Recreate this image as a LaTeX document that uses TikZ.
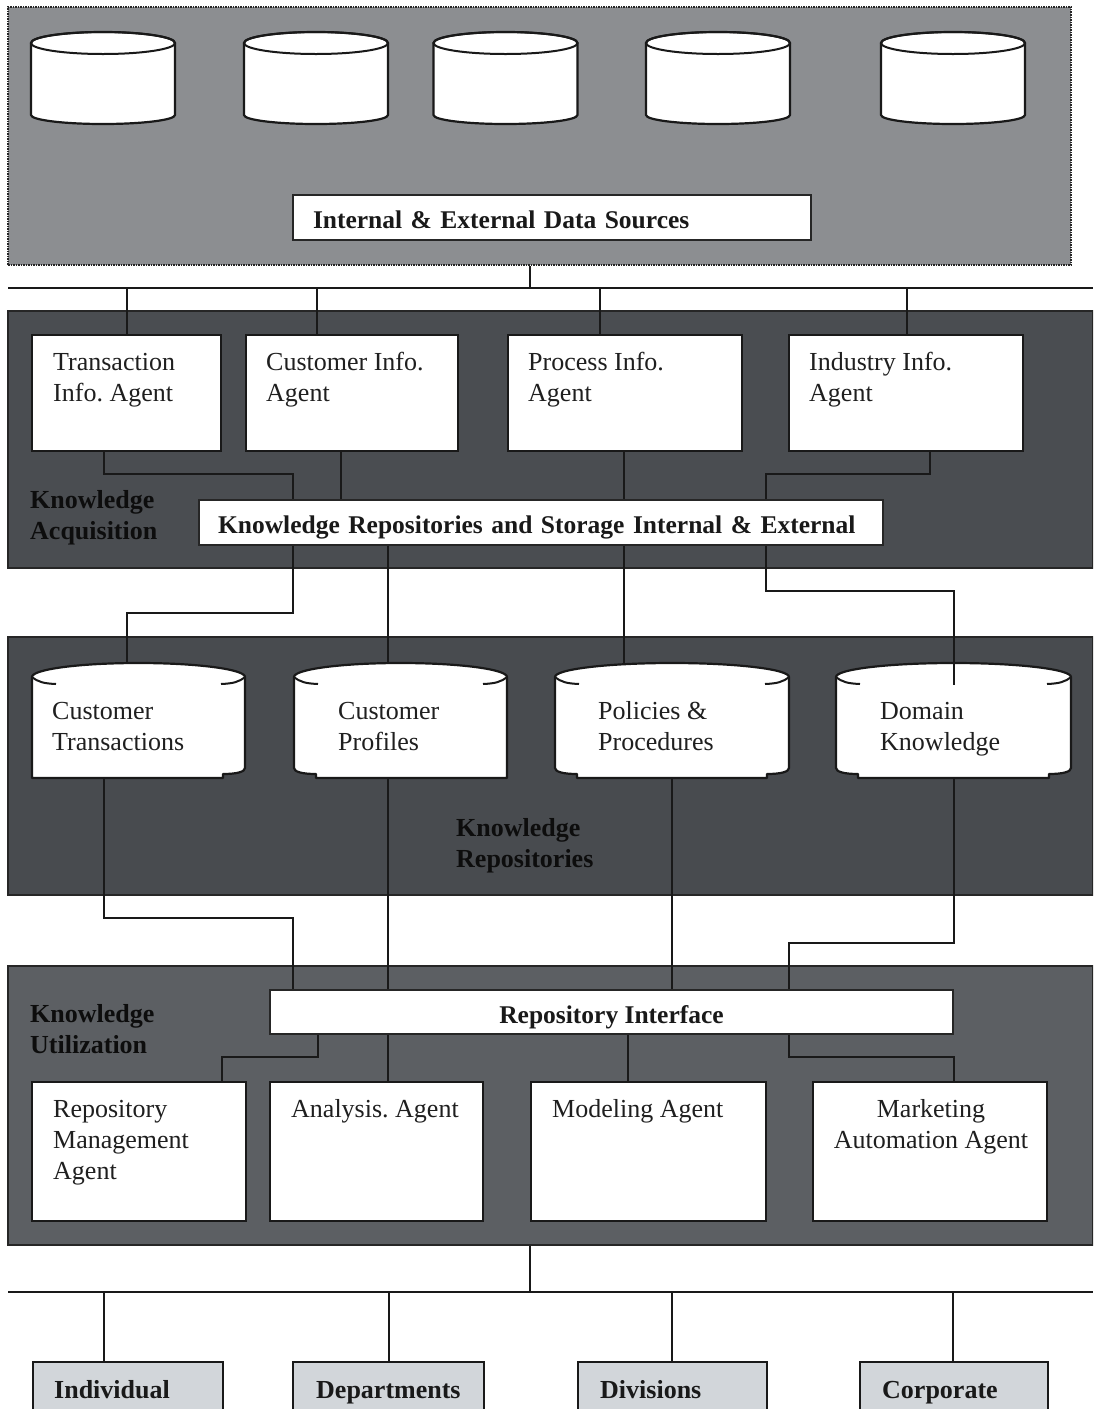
\documentclass[tikz,border=0pt]{standalone}
\usepackage{fontspec}
\setmainfont{Liberation Serif}
\usetikzlibrary{calc}
\frenchspacing
\newcommand\bodyfont{\fontsize{26}{31}\selectfont}
\newcommand\boldlabelfont{\fontsize{25.5}{31}\selectfont\bfseries}
\definecolor{srcgray}{HTML}{8C8E91}
\definecolor{acqgray}{HTML}{4A4D51}
\definecolor{repgray}{HTML}{484B4F}
\definecolor{utlgray}{HTML}{5C5F63}
\definecolor{usergray}{HTML}{D2D6DA}
\begin{document}
\begin{tikzpicture}[x=1pt,y=-1pt,
  panel/.style={draw=black!85, line width=1.5pt, inner sep=0pt},
  srcpanel/.style={panel, fill=srcgray, densely dotted},
  agentbox/.style={draw=black!90, fill=white, line width=2.6pt, inner sep=0pt, minimum height=116pt},
  utilbox/.style={agentbox, minimum height=139pt},
  labelbox/.style={draw=black!85, fill=white, line width=1.2pt, inner ysep=0pt, minimum height=45pt,
                   text height=22pt, text depth=0pt, font=\boldlabelfont, text=black!90},
  userbox/.style={draw=black!90, fill=usergray, line width=2.6pt, inner sep=0pt, minimum height=58pt},
  area/.style={inner sep=0pt, minimum height=115pt},
  txt/.style={font=\bodyfont, text=black!88, inner sep=0pt, anchor=north west, align=left},
  paneltxt/.style={txt, font=\bodyfont\bfseries, text=black!95},
  usertxt/.style={font=\bodyfont\bfseries, text=black!90, inner sep=0pt, anchor=base west},
  wire/.style={draw=black!90, line width=2pt},
  cyl/.style={draw=black!90, fill=white, line width=2.2pt, line join=round},
  cylhook/.style={draw=black!90, line width=2pt},
  dbcyl/.pic={
    \draw[cyl] (-72,0) -- (-72,72) arc[start angle=180,end angle=0,x radius=72,y radius=9]
       -- (72,0) arc[start angle=0,end angle=-180,x radius=72,y radius=11] -- cycle;
    \draw[cylhook] (0,0) ellipse[x radius=72,y radius=11];
  }]
\useasboundingbox (0,0) rectangle (1093,1409);
\clip (0,0) rectangle (1093,1409);

% ---------------- data sources ----------------
\node[srcpanel, minimum width=1063pt, minimum height=258pt] (src) at (539.5,136) {};
\pic (s1) at (103,43) {dbcyl};
\pic (s2) at (316,43) {dbcyl};
\pic (s3) at (505.5,43) {dbcyl};
\pic (s4) at (718,43) {dbcyl};
\pic (s5) at (953,43) {dbcyl};
\node[labelbox, minimum width=518pt, text width=478pt, inner xsep=20pt, align=left] (ds) at (552,217.5)
  {Internal \& External Data Sources};

% ---------------- knowledge acquisition ----------------
\node[panel, fill=acqgray, minimum width=1085pt, minimum height=257pt] (acq) at (550.5,439.5) {};
\node[agentbox, minimum width=189pt] (ta) at (126.5,393) {};
\node[agentbox, minimum width=212pt] (ci) at (352,393) {};
\node[agentbox, minimum width=234pt] (pi) at (625,393) {};
\node[agentbox, minimum width=234pt] (ii) at (906,393) {};
\node[txt] (tat) at (53,348.3) {\strut Transaction\\Info. Agent};
\node[txt] (cit) at (266,348.3) {\strut Customer Info.\\Agent};
\node[txt] (pit) at (528,348.3) {\strut Process Info.\\Agent};
\node[txt] (iit) at (809,348.3) {\strut Industry Info.\\Agent};
\node[paneltxt] (acqt) at (30,486.3) {\strut Knowledge\\Acquisition};
\node[labelbox, minimum width=684pt, text width=646pt, inner xsep=19pt, align=left] (kr) at (541,522.5)
  {Knowledge Repositories and Storage Internal \& External};

% ---------------- knowledge repositories ----------------
\node[panel, fill=repgray, minimum width=1085pt, minimum height=258pt] (rep) at (550.5,766) {};
\node[area, minimum width=213pt] (ct) at (138.5,720.5) {};
\node[area, minimum width=213pt] (cp) at (400.5,720.5) {};
\node[area, minimum width=234pt] (pp) at (672,720.5) {};
\node[area, minimum width=235pt] (dk) at (953.5,720.5) {};
% Customer Transactions
\draw[cyl] (32,677) arc[start angle=180,end angle=360,x radius=106.5,y radius=14]
  -- (245,768) .. controls (245,772) and (236,774) .. (223,774) -- (223,778) -- (32,778) -- cycle;
% Customer Profiles
\draw[cyl] (294,677) arc[start angle=180,end angle=360,x radius=106.5,y radius=14]
  -- (507,778) -- (316,778) -- (316,774) .. controls (303,774) and (294,772) .. (294,768) -- cycle;
% Policies & Procedures
\draw[cyl] (555,677) arc[start angle=180,end angle=360,x radius=117,y radius=14]
  -- (789,768) .. controls (789,772) and (780,774) .. (767,774) -- (767,778)
  -- (577,778) -- (577,774) .. controls (564,774) and (555,772) .. (555,768) -- cycle;
% Domain Knowledge
\draw[cyl] (836,677) arc[start angle=180,end angle=360,x radius=117.5,y radius=14]
  -- (1071,768) .. controls (1071,772) and (1062,774) .. (1049,774) -- (1049,778)
  -- (858,778) -- (858,774) .. controls (845,774) and (836,772) .. (836,768) -- cycle;
\foreach \a/\b in {32/245,294/507,555/789,836/1071}{
  \draw[cylhook] (\a,677) .. controls (\a+6,682) and (\a+12,683.5) .. (\a+24,684);
  \draw[cylhook] (\b,677) .. controls (\b-6,682) and (\b-12,683.5) .. (\b-24,684);
}
\node[txt] (ctt) at (52,697.3) {\strut Customer\\Transactions};
\node[txt] (cpt) at (338,697.3) {\strut Customer\\Profiles};
\node[txt] (ppt) at (598,697.3) {\strut Policies \&\\Procedures};
\node[txt] (dkt) at (880,697.3) {\strut Domain\\Knowledge};
\node[paneltxt] (rept) at (456,814.3) {\strut Knowledge\\Repositories};

% ---------------- knowledge utilization ----------------
\node[panel, fill=utlgray, minimum width=1085pt, minimum height=279pt] (utl) at (550.5,1105.5) {};
\node[paneltxt] (utlt) at (30,1000.3) {\strut Knowledge\\Utilization};
\node[labelbox, minimum width=683pt, minimum height=44pt] (ri) at (611.5,1012) {Repository Interface};
\node[utilbox, minimum width=214pt] (rma) at (139,1151.5) {};
\node[utilbox, minimum width=213pt] (an) at (376.5,1151.5) {};
\node[utilbox, minimum width=235pt] (mo) at (648.5,1151.5) {};
\node[utilbox, minimum width=234pt] (ma) at (930,1151.5) {};
\node[txt] (rmat) at (53,1095.3) {\strut Repository\\Management\\Agent};
\node[txt] (ant) at (291,1095.3) {\strut Analysis. Agent};
\node[txt] (mot) at (552,1095.3) {\strut Modeling Agent};
\node[txt, anchor=north, align=center] (mat) at (931,1095.3) {\strut Marketing\\Automation Agent};

% ---------------- users ----------------
\node[userbox, minimum width=190pt] (ind) at (128,1391) {};
\node[userbox, minimum width=191pt] (dep) at (388.5,1391) {};
\node[userbox, minimum width=189pt] (div) at (672.5,1391) {};
\node[userbox, minimum width=188pt] (cor) at (954,1391) {};
\node[usertxt] (indt) at (54,1398) {Individual};
\node[usertxt] (dept) at (316,1398) {Departments};
\node[usertxt] (divt) at (600,1398) {Divisions};
\node[usertxt] (cort) at (882,1398) {Corporate};

% ---------------- connectors ----------------
% sources bus
\draw[wire] (530,0 |- src.south) -- (530,288);
\draw[wire] (8,288) -- (1093,288);
\foreach \x/\n in {127/ta,317/ci,600/pi,907/ii}
  \draw[wire] (\x,288) -- (\x,0 |- \n.north);
% agents to repository storage
\draw[wire] (104,0 |- ta.south) |- (293,474) -- (293,0 |- kr.north);
\draw[wire] (341,0 |- ci.south) -- (341,0 |- kr.north);
\draw[wire] (624,0 |- pi.south) -- (624,0 |- kr.north);
\draw[wire] (930,0 |- ii.south) |- (766,474) -- (766,0 |- kr.north);
% storage to repositories
\draw[wire] (293,0 |- kr.south) |- (127,613) -- (127,0 |- ct.north);
\draw[wire] (388,0 |- kr.south) -- (388,0 |- cp.north);
\draw[wire] (624,0 |- kr.south) -- (624,0 |- pp.north);
\draw[wire] (766,0 |- kr.south) |- (954,591) -- ($(954,0 |- dk.north)+(0,22)$);
% repositories to interface
\draw[wire] (104,0 |- ct.south) |- (293,918) -- (293,0 |- ri.north);
\draw[wire] (388,0 |- cp.south) -- (388,0 |- ri.north);
\draw[wire] (672,0 |- pp.south) -- (672,0 |- ri.north);
\draw[wire] (954,0 |- dk.south) |- (789,943) -- (789,0 |- ri.north);
% interface to utilization agents
\draw[wire] (318,0 |- ri.south) |- (222,1057) -- (222,0 |- rma.north);
\draw[wire] (388,0 |- ri.south) -- (388,0 |- an.north);
\draw[wire] (628,0 |- ri.south) -- (628,0 |- mo.north);
\draw[wire] (789,0 |- ri.south) |- (954,1057) -- (954,0 |- ma.north);
% users bus
\draw[wire] (530,0 |- utl.south) -- (530,1292);
\draw[wire] (8,1292) -- (1093,1292);
\foreach \x/\n in {104/ind,389/dep,672/div,953/cor}
  \draw[wire] (\x,1292) -- (\x,0 |- \n.north);
\end{tikzpicture}
\end{document}
